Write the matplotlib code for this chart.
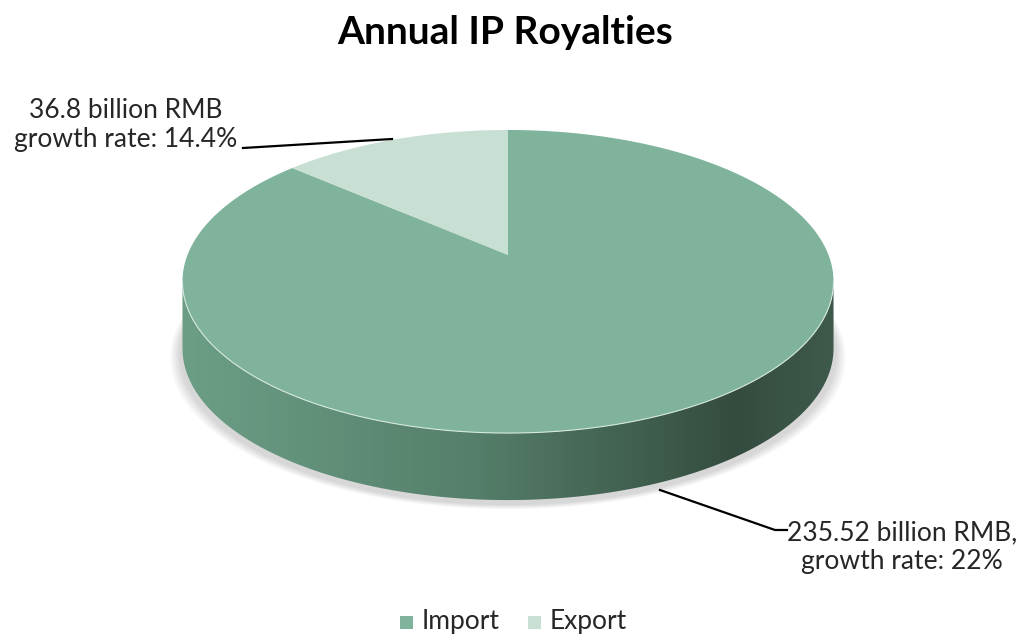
import numpy as np
import matplotlib
matplotlib.use("Agg")
import matplotlib.pyplot as plt
from matplotlib.patches import Polygon, Rectangle
from matplotlib.colors import LinearSegmentedColormap

plt.rcParams['font.family'] = ['Lato', 'DejaVu Sans']

# data
categories = ['Import', 'Export']
values = [235.52, 36.8]          # billion RMB
growth = ['22%', '14.4%']
labels = ['235.52 billion RMB,\ngrowth rate: 22%',
          '36.8 billion RMB\ngrowth rate: 14.4%']
top_colors = ['#7FB39C', '#C8E0D4']

fig = plt.figure(figsize=(10.27, 6.36), dpi=100)
ax = fig.add_axes([0, 0, 1, 1])
ax.set_xlim(0, 1027)
ax.set_ylim(636, 0)
ax.axis('off')

# pie geometry (pixel-ish coordinates, y down), simple perspective
cx, cy = 508, 255
A, B = 320.5, 146.9
k = 0.175          # perspective strength
h = 67             # thickness


def pt(phi, dy=0.0):
    # phi: clockwise from 12 o'clock, radians
    X, Z = np.sin(phi), np.cos(phi)
    s = 1.0 / (1.0 + k * Z)
    return cx + A * X * s, cy - B * Z * s + dy


# soft shadow under the pie
t = np.linspace(0, 2 * np.pi, 300)
for j in range(8):
    xs, ys = pt(t, h + 5)
    ax.fill(cx + (xs - cx) * (1.01 + j * 0.004), ys + j * 0.6,
            color='#000000', alpha=0.018, lw=0, zorder=1)

# side wall (front half), gradient shaded
p0 = np.arccos(-k)
phi = np.linspace(p0, 2 * np.pi - p0, 300)
xt, yt = pt(phi)
xb, yb = pt(phi[::-1], h)
side = Polygon(np.column_stack([np.r_[xt, xb], np.r_[yt, yb]]), closed=True,
               fc='none', ec='none', zorder=2)
ax.add_patch(side)
cmap = LinearSegmentedColormap.from_list(
    'side', [(0, '#6C9E86'), (0.45, '#557F6A'), (0.85, '#344C3F'), (1.0, '#3E5A4B')])
grad = np.linspace(0, 1, 256)[None, :]
im = ax.imshow(grad, cmap=cmap, aspect='auto',
               extent=(xt.min(), xt.max(), yb.max() + 2, yt.min() - 2),
               zorder=2, interpolation='bilinear')
im.set_clip_path(side)

# top faces
total = sum(values)
start = 0.0
for v, col in zip(values, top_colors):
    span = 2 * np.pi * v / total
    ang = np.linspace(start, start + span, 300)
    xs, ys = pt(ang)
    ax.add_patch(Polygon(np.column_stack([np.r_[cx, xs], np.r_[cy, ys]]), closed=True,
                         fc=col, ec='none', zorder=3))
    start += span

# light rim between top and side
ax.plot(xt, yt, color='#D6E8DF', lw=0.8, zorder=4)

# leader lines and labels
ax.plot([660, 775, 787], [490, 530, 530], color='black', lw=1.6, zorder=5)
ax.text(902, 547, labels[0], ha='center', va='center', fontsize=19,
        color='#262626', linespacing=1.2)

ax.plot([392, 243], [139, 148], color='black', lw=1.6, zorder=5)
ax.text(126, 125, labels[1], ha='center', va='center', fontsize=19,
        color='#262626', linespacing=1.2)

# title
ax.text(505, 33, 'Annual IP Royalties', ha='center', va='center', fontsize=28,
        fontweight='bold', color='black')

# legend
lx = [400, 528]
for x0, name, col in zip(lx, categories, top_colors):
    ax.add_patch(Rectangle((x0, 616), 13, 13, fc=col, ec='none'))
    ax.text(x0 + 22, 622, name, ha='left', va='center', fontsize=19, color='#262626')

fig.savefig('out.png', dpi=100)
